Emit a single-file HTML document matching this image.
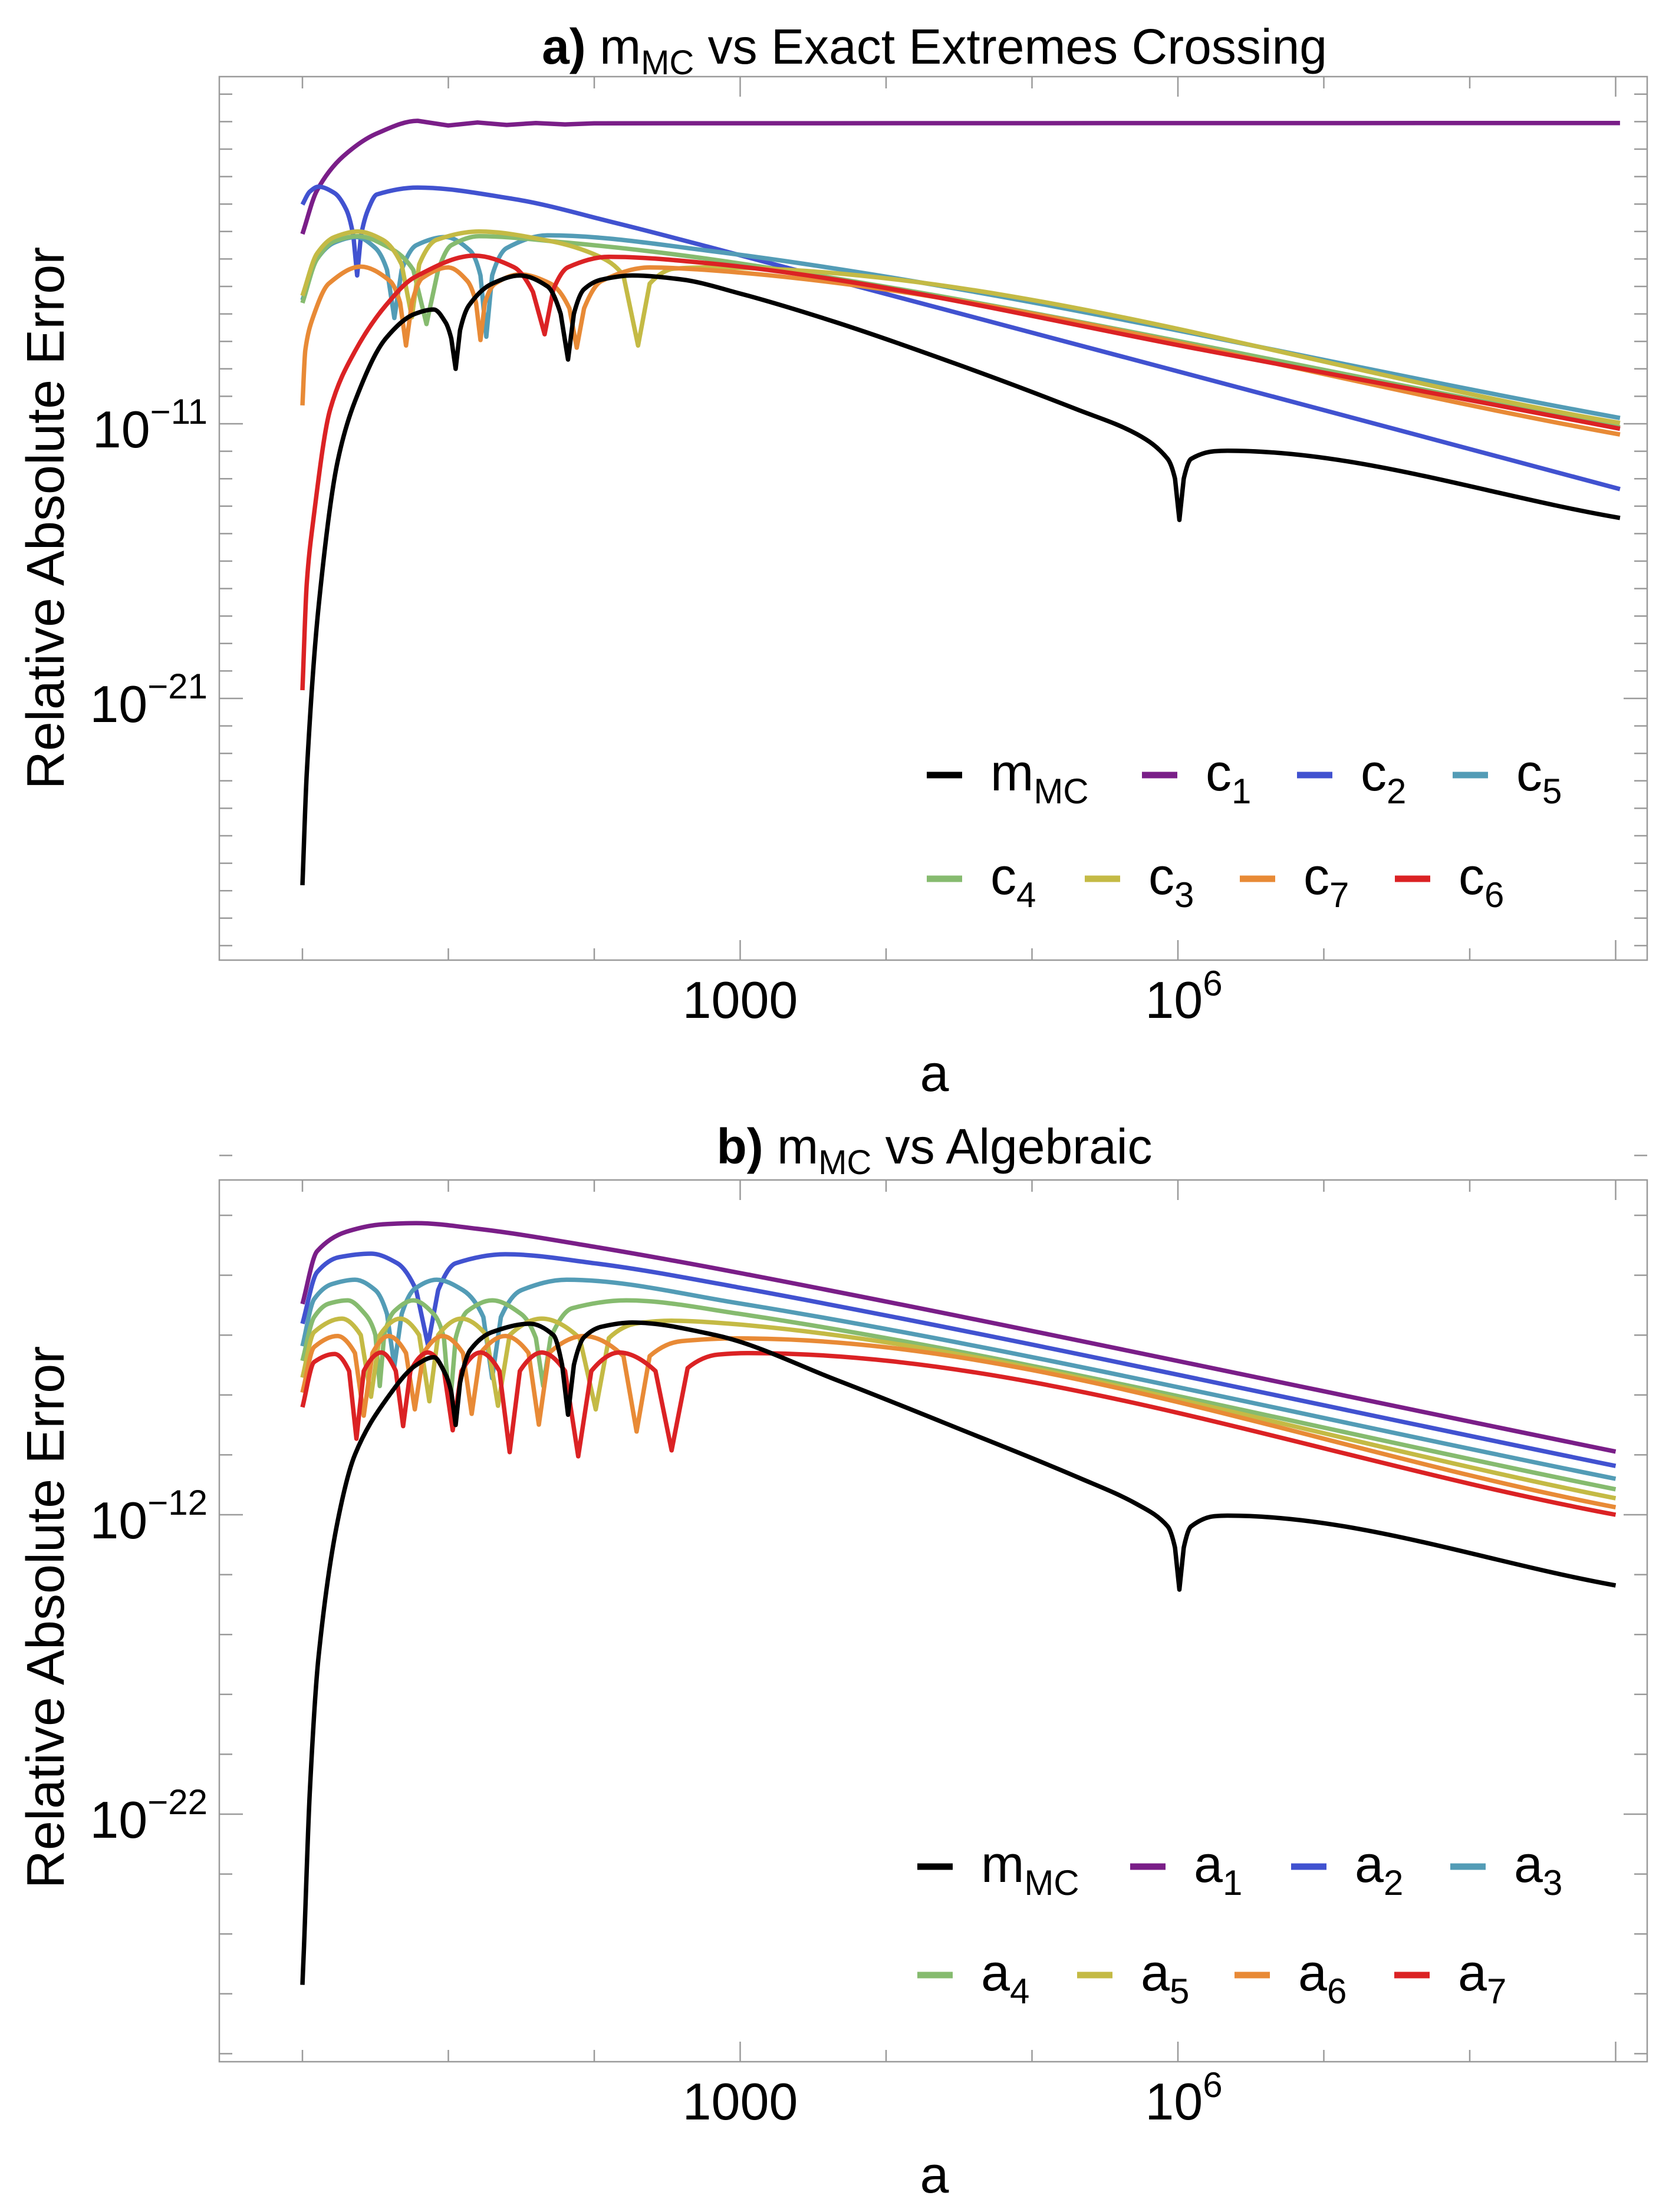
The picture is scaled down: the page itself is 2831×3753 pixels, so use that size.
<!DOCTYPE html>
<html><head><meta charset="utf-8"><style>
html,body{margin:0;padding:0;background:#fff;}
svg{display:block;font-family:"Liberation Sans",sans-serif;}
</style></head><body>
<svg id="chart" width="2831" height="3753" viewBox="0 0 2831 3753" xmlns="http://www.w3.org/2000/svg">
<rect width="2831" height="3753" fill="#fff"/>
<g id="pa"></g>
<g id="pb"></g>
</svg>
<script>
// ---- data (x: log10 a, y: log10 error) ----
const xTicksLog = [0,1,2,3,4,5,6,7,8,9];
const xTickLabels = [{L:3,t:"1000"},{L:6,t:"10",s:"6"}];
const aYLabels = [{v:-11,s:"−11"},{v:-21,s:"−21"}];
const bYLabels = [{v:-12,s:"−12"},{v:-22,s:"−22"}];

const aMC = [[0,-27.8],[0.03,-23.7],[0.11,-17.7],[0.24,-12.4],[0.36,-10.18],[0.57,-7.9],[0.77,-7.0],[0.9,-6.84],[0.98,-7.3],[1.02,-7.9],[1.05,-9.0],[1.08,-7.6],[1.14,-6.7],[1.3,-5.9],[1.49,-5.6],[1.68,-6.0],[1.77,-7.0],[1.82,-8.66],[1.86,-7.0],[1.93,-6.1],[2.05,-5.75],[2.26,-5.6],[2.59,-5.74],[3.0,-6.26],[3.66,-7.31],[4.48,-8.82],[5.31,-10.48],[5.72,-11.38],[5.93,-12.28],[5.98,-13.0],[6.01,-14.5],[6.04,-13.0],[6.09,-12.28],[6.25,-12.0],[6.34,-11.98],[9.03,-14.43]];
const aC1 = [[0,-4.09],[0.1,-2.5],[0.28,-1.26],[0.51,-0.43],[0.79,0.03],[1.0,-0.14],[1.2,-0.03],[1.4,-0.12],[1.6,-0.05],[1.8,-0.1],[2.0,-0.06],[9.03,-0.05]];
const aC2 = [[0,-3.02],[0.05,-2.55],[0.11,-2.37],[0.22,-2.6],[0.3,-3.2],[0.35,-4.2],[0.375,-5.6],[0.4,-4.2],[0.45,-3.2],[0.51,-2.65],[0.79,-2.4],[1.44,-2.81],[2.14,-3.68],[2.77,-4.54],[9.03,-13.38]];
const aC5 = [[0,-6.5],[0.1,-5.0],[0.22,-4.4],[0.37,-4.2],[0.5,-4.6],[0.58,-5.4],[0.63,-7.15],[0.68,-5.4],[0.78,-4.5],[0.98,-4.2],[1.15,-4.7],[1.22,-5.6],[1.26,-7.83],[1.3,-5.6],[1.4,-4.6],[1.68,-4.14],[2.77,-4.69],[9.03,-10.79]];
const aC4 = [[0,-6.6],[0.1,-5.0],[0.22,-4.35],[0.38,-4.17],[0.6,-4.6],[0.76,-5.4],[0.85,-7.37],[0.93,-5.4],[1.02,-4.5],[1.21,-4.17],[1.8,-4.4],[2.77,-4.99],[9.03,-11.13]];
const aC3 = [[0,-6.34],[0.1,-4.8],[0.22,-4.2],[0.38,-4.0],[0.55,-4.3],[0.68,-5.2],[0.75,-7.12],[0.8,-5.2],[0.92,-4.3],[1.21,-4.0],[1.7,-4.35],[2.03,-4.9],[2.2,-5.6],[2.3,-8.15],[2.38,-5.9],[2.55,-5.35],[2.77,-5.31],[9.03,-10.97]];
const aC7 = [[0,-10.33],[0.02,-8.3],[0.07,-7.16],[0.18,-5.9],[0.4,-5.28],[0.6,-5.8],[0.67,-6.6],[0.71,-8.15],[0.75,-6.6],[0.82,-5.7],[1.0,-5.31],[1.13,-5.8],[1.19,-6.6],[1.22,-7.95],[1.25,-6.6],[1.32,-5.9],[1.49,-5.56],[1.7,-5.9],[1.83,-6.8],[1.88,-8.23],[1.93,-6.8],[2.05,-5.8],[2.38,-5.31],[2.77,-5.4],[9.03,-11.39]];
const aC6 = [[0,-20.7],[0.03,-16.8],[0.07,-14.7],[0.19,-10.48],[0.36,-8.36],[0.57,-6.7],[0.77,-5.66],[1.18,-4.88],[1.45,-5.3],[1.58,-6.2],[1.66,-7.74],[1.72,-6.1],[1.82,-5.3],[2.1,-4.92],[2.77,-5.15],[6.41,-8.55],[9.03,-11.18]];

const bMC = [[0,-27.7],[0.01,-26.5],[0.05,-21.3],[0.11,-16.77],[0.24,-12.25],[0.36,-9.99],[0.57,-8.18],[0.78,-7.0],[0.9,-6.74],[0.98,-7.3],[1.02,-7.9],[1.05,-9.0],[1.08,-7.6],[1.15,-6.5],[1.3,-5.9],[1.56,-5.62],[1.72,-6.0],[1.78,-7.0],[1.82,-8.66],[1.86,-7.0],[1.93,-6.07],[2.05,-5.72],[2.26,-5.58],[2.83,-6.0],[3.66,-7.5],[4.48,-9.09],[5.31,-10.74],[5.72,-11.65],[5.93,-12.39],[5.98,-13.1],[6.01,-14.5],[6.04,-13.1],[6.09,-12.39],[6.25,-12.05],[6.34,-12.03],[9.0,-14.36]];
const bA1 = [[0,-4.96],[0.1,-3.2],[0.3,-2.55],[0.55,-2.3],[0.78,-2.26],[1.2,-2.45],[2.0,-3.05],[2.98,-3.91],[9.0,-9.89]];
const bA2 = [[0,-5.62],[0.1,-3.9],[0.25,-3.4],[0.47,-3.28],[0.65,-3.6],[0.78,-4.5],[0.86,-6.33],[0.93,-4.5],[1.05,-3.6],[1.39,-3.3],[2.0,-3.6],[2.98,-4.4],[9.0,-10.37]];
const bA3 = [[0,-6.37],[0.08,-4.8],[0.2,-4.3],[0.36,-4.15],[0.5,-4.5],[0.58,-5.3],[0.63,-7.04],[0.68,-5.3],[0.77,-4.45],[0.92,-4.15],[1.1,-4.5],[1.24,-5.4],[1.3,-7.44],[1.36,-5.4],[1.5,-4.5],[1.81,-4.15],[2.98,-4.93],[9.0,-10.8]];
const bA4 = [[0,-6.86],[0.08,-5.4],[0.18,-4.95],[0.31,-4.84],[0.43,-5.3],[0.5,-6.0],[0.53,-7.7],[0.56,-6.0],[0.63,-5.2],[0.76,-4.84],[0.9,-5.3],[0.97,-6.1],[1.01,-8.44],[1.05,-6.1],[1.13,-5.2],[1.3,-4.84],[1.5,-5.3],[1.6,-6.1],[1.65,-7.7],[1.7,-6.1],[1.85,-5.1],[2.22,-4.84],[2.98,-5.28],[9.0,-11.15]];
const bA5 = [[0,-7.42],[0.08,-5.9],[0.27,-5.45],[0.4,-6.0],[0.47,-8.06],[0.53,-6.0],[0.67,-5.45],[0.8,-6.0],[0.87,-8.21],[0.93,-6.0],[1.09,-5.45],[1.26,-6.0],[1.34,-8.36],[1.42,-6.0],[1.64,-5.45],[1.9,-6.1],[2.01,-8.48],[2.1,-6.1],[2.3,-5.6],[2.53,-5.52],[2.98,-5.64],[9.0,-11.45]];
const bA6 = [[0,-7.92],[0.08,-6.4],[0.24,-6.03],[0.36,-6.6],[0.42,-8.69],[0.48,-6.6],[0.59,-6.03],[0.71,-6.6],[0.77,-8.48],[0.83,-6.6],[0.96,-6.03],[1.1,-6.6],[1.16,-8.63],[1.22,-6.6],[1.39,-6.03],[1.55,-6.6],[1.62,-8.99],[1.69,-6.6],[1.93,-6.03],[2.2,-6.7],[2.29,-9.22],[2.38,-6.7],[2.6,-6.2],[2.98,-6.11],[9.0,-11.75]];
const bA7 = [[0,-8.41],[0.08,-6.9],[0.22,-6.63],[0.32,-7.2],[0.37,-9.46],[0.42,-7.2],[0.54,-6.58],[0.64,-7.2],[0.69,-9.04],[0.74,-7.2],[0.86,-6.58],[0.97,-7.2],[1.03,-9.18],[1.09,-7.2],[1.22,-6.58],[1.35,-7.2],[1.42,-9.91],[1.49,-7.2],[1.64,-6.58],[1.8,-7.2],[1.89,-10.05],[1.98,-7.2],[2.17,-6.58],[2.42,-7.2],[2.53,-9.85],[2.64,-7.1],[2.85,-6.65],[3.05,-6.6],[9.0,-12.0]];

const COL = {mc:"#000000",p:"#7a1e88",b:"#4152d0",c:"#539cb6",g:"#86bb6f",y:"#c4ba45",o:"#e88a36",r:"#db2224"};
const NS = "http://www.w3.org/2000/svg";

function el(tag, attrs, parent){ const e=document.createElementNS(NS,tag); for(const k in attrs) e.setAttribute(k,attrs[k]); parent.appendChild(e); return e; }

function xs(L){ return 513 + 247.5*L; }

function pathFor(pts, X, Y){
  const P = pts.map(p=>[X(p[0]),Y(p[1])]);
  const n=P.length;
  const isMin = i => i>0 && i<n-1 && pts[i][1]<pts[i-1][1] && pts[i][1]<pts[i+1][1];
  const m=[];
  const d=[];
  for(let i=0;i<n-1;i++) d.push((P[i+1][1]-P[i][1])/(P[i+1][0]-P[i][0]));
  for(let i=0;i<n;i++){
    if(i===0) m.push(d[0]); else if(i===n-1) m.push(d[n-2]);
    else if(d[i-1]*d[i]<=0) m.push(0);
    else m.push(2/(1/d[i-1]+1/d[i]));
  }
  let s="M"+P[0][0].toFixed(1)+","+P[0][1].toFixed(1);
  for(let i=0;i<n-1;i++){
    const [x0,y0]=P[i],[x1,y1]=P[i+1];
    if(isMin(i)||isMin(i+1)){ s+=" L"+x1.toFixed(1)+","+y1.toFixed(1); continue; }
    const h=(x1-x0)/3;
    s+=" C"+(x0+h).toFixed(1)+","+(y0+m[i]*h).toFixed(1)+" "+(x1-h).toFixed(1)+","+(y1-m[i+1]*h).toFixed(1)+" "+x1.toFixed(1)+","+y1.toFixed(1);
  }
  return s;
}

function buildPanel(g, cfg){
  const Y = v => cfg.y0 - cfg.k*(v - cfg.v0);
  const t = el("text",{x:1585,y:cfg.titleY,"text-anchor":"middle","font-size":84,fill:"#000"},g);
  
  
  t.innerHTML = '<tspan font-weight="bold">'+cfg.tag+')</tspan> m<tspan font-size="58" dy="18">MC</tspan><tspan dy="-18"> vs '+cfg.title+'</tspan>';
  const fr = el("rect",{x:372,y:cfg.top,width:2422,height:cfg.bot-cfg.top,fill:"none",stroke:"#9a9a9a","stroke-width":2.5},g);
  
  
  xTicksLog.forEach(L=>{
    const x=xs(L); const len=(L%3===0&&L>0)?34:20;
    const a=el("line",{x1:x,x2:x,y1:cfg.bot,y2:cfg.bot-len,stroke:"#9a9a9a","stroke-width":2.5},g);
    
    
    const b=el("line",{x1:x,x2:x,y1:cfg.top,y2:cfg.top+len,stroke:"#9a9a9a","stroke-width":2.5},g);
    
    
  });
  xTickLabels.forEach(o=>{
    const tx=el("text",{x:xs(o.L)+(o.s?10:0),y:cfg.bot+98,"text-anchor":"middle","font-size":88,fill:"#000"},g);
    
    
    tx.innerHTML = o.t + (o.s?'<tspan font-size="60" dy="-38">'+o.s+'</tspan>':'');
  });
  const xl=el("text",{x:1585,y:cfg.bot+222,"text-anchor":"middle","font-size":88,fill:"#000"},g);
  
  
  xl.textContent="a";
  for(let v=Math.ceil(cfg.vMin); v<=cfg.vMax; v+=cfg.tickStep){
    const y=Y(v); const major=cfg.labels.some(o=>o.v===v); const len=major?40:22;
    const a=el("line",{x1:372,x2:372+len,y1:y,y2:y,stroke:"#9a9a9a","stroke-width":2.5},g);
    
    
    const b=el("line",{x1:2794,x2:2794-len,y1:y,y2:y,stroke:"#9a9a9a","stroke-width":2.5},g);
    
    
  }
  cfg.labels.forEach(o=>{
    const ty=el("text",{x:352,y:Y(o.v)+40,"text-anchor":"end","font-size":88,fill:"#000"},g);
    
    
    ty.innerHTML='10<tspan font-size="60" dy="-40">'+o.s+'</tspan>';
  });
  const yc=cfg.ylabC;
  const yl=el("text",{x:0,y:0,transform:"translate(108,"+yc+") rotate(-90)","text-anchor":"middle","font-size":90,fill:"#000"},g);
  
  
  yl.textContent="Relative Absolute Error";
  cfg.series.forEach(s=>{
    const p=el("path",{d:pathFor(s.d,xs,Y),fill:"none",stroke:s.c,"stroke-width":7.5,"stroke-linejoin":"round","stroke-linecap":"butt"},g);
    
    
  });
  cfg.legend.forEach(e=>{
    const lg=el("g",{},g);
    
    
    el("line",{x1:e.x,x2:e.x+60,y1:e.y,y2:e.y,stroke:e.c,"stroke-width":11},lg);
    const tt=el("text",{x:e.x+108,y:e.y+26,"font-size":88,fill:"#000"},lg);
    tt.innerHTML=e.b+'<tspan font-size="60" dy="22">'+e.s+'</tspan>';
  });
}

const ya=1315, yb=1491, yc=3167, yd=3351;
buildPanel(document.getElementById('pa'),{
  tag:"a",title:"Exact Extremes Crossing",titleY:108,top:130,bot:1629,y0:719,v0:-11,k:46.6,
  vMin:-30,vMax:1,tickStep:1,labels:aYLabels,ylabC:879,
  series:[{n:"c1",d:aC1,c:COL.p},{n:"c2",d:aC2,c:COL.b},{n:"c5",d:aC5,c:COL.c},{n:"c4",d:aC4,c:COL.g},{n:"c3",d:aC3,c:COL.y},{n:"c7",d:aC7,c:COL.o},{n:"c6",d:aC6,c:COL.r},{n:"mmc",d:aMC,c:COL.mc}],
  legend:[{x:1572,y:ya,c:COL.mc,b:"m",s:"MC"},{x:1937,y:ya,c:COL.p,b:"c",s:"1"},{x:2200,y:ya,c:COL.b,b:"c",s:"2"},{x:2464,y:ya,c:COL.c,b:"c",s:"5"},
          {x:1572,y:yb,c:COL.g,b:"c",s:"4"},{x:1840,y:yb,c:COL.y,b:"c",s:"3"},{x:2103,y:yb,c:COL.o,b:"c",s:"7"},{x:2366,y:yb,c:COL.r,b:"c",s:"6"}]
});
buildPanel(document.getElementById('pb'),{
  tag:"b",title:"Algebraic",titleY:1974,top:2002,bot:3498,y0:2570,v0:-12,k:50.8,
  vMin:-30,vMax:0,tickStep:2,labels:bYLabels,ylabC:2744,
  series:[{n:"a1",d:bA1,c:COL.p},{n:"a2",d:bA2,c:COL.b},{n:"a3",d:bA3,c:COL.c},{n:"a4",d:bA4,c:COL.g},{n:"a5",d:bA5,c:COL.y},{n:"a6",d:bA6,c:COL.o},{n:"a7",d:bA7,c:COL.r},{n:"mmc",d:bMC,c:COL.mc}],
  legend:[{x:1556,y:yc,c:COL.mc,b:"m",s:"MC"},{x:1917,y:yc,c:COL.p,b:"a",s:"1"},{x:2190,y:yc,c:COL.b,b:"a",s:"2"},{x:2460,y:yc,c:COL.c,b:"a",s:"3"},
          {x:1556,y:yd,c:COL.g,b:"a",s:"4"},{x:1827,y:yd,c:COL.y,b:"a",s:"5"},{x:2094,y:yd,c:COL.o,b:"a",s:"6"},{x:2365,y:yd,c:COL.r,b:"a",s:"7"}]
});
</script>
</body></html>
